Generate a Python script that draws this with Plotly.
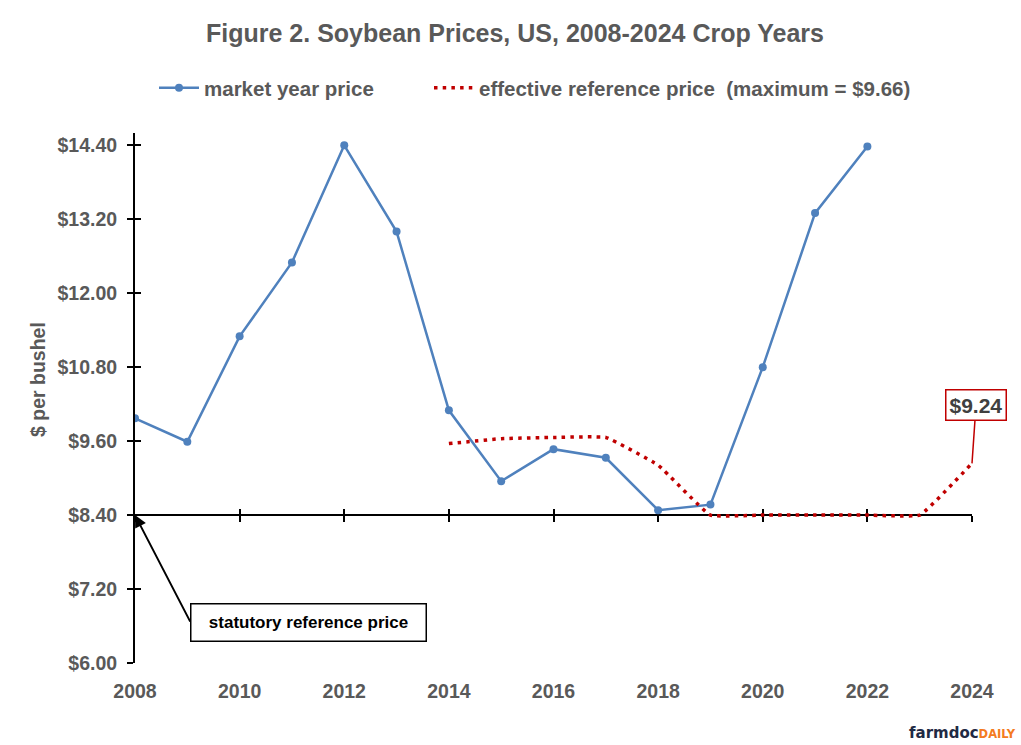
import plotly.graph_objects as go

# Market year price by crop year
market_years = [2008, 2009, 2010, 2011, 2012, 2013, 2014, 2015,
                2016, 2017, 2018, 2019, 2020, 2021, 2022]
market_price = [9.97, 9.59, 11.30, 12.50, 14.40, 13.00, 10.10, 8.95,
                9.47, 9.33, 8.48, 8.57, 10.80, 13.30, 14.38]

# Effective reference price by crop year
erp_years = [2014, 2015, 2016, 2017, 2018, 2019, 2020, 2021, 2022, 2023, 2024]
erp_price = [9.56, 9.64, 9.66, 9.66, 9.21, 8.40, 8.40, 8.40, 8.40, 8.40, 9.24]

statutory_price = 8.40
y_ticks = [6.00, 7.20, 8.40, 9.60, 10.80, 12.00, 13.20, 14.40]
x_ticks = [2008, 2010, 2012, 2014, 2016, 2018, 2020, 2022, 2024]

GRAY = "#595959"
BLUE = "#4F81BD"
RED = "#C00000"
FONT = "Liberation Sans"
Y_RANGE = [6.0, 14.6]
X_RANGE = [2008, 2024]
PLOT_L, PLOT_W, PLOT_T, PLOT_H = 135, 837, 133, 530


def px_x(px):
    return (px - PLOT_L) / PLOT_W


def px_y(py):
    return (PLOT_T + PLOT_H - py) / PLOT_H


fig = go.Figure()

fig.add_trace(go.Scatter(
    x=market_years, y=market_price, name="market year price",
    mode="lines+markers",
    line=dict(color=BLUE, width=2.5),
    marker=dict(color=BLUE, size=8),
    legend="legend",
))

fig.add_trace(go.Scatter(
    x=erp_years, y=erp_price,
    name="effective reference price  (maximum = $9.66)",
    mode="lines",
    line=dict(color=RED, width=3.5, dash="3.5px,5.2px", shape="spline", smoothing=0.3),
    legend="legend2",
))

axis_common = dict(range=X_RANGE, showgrid=False, zeroline=False, fixedrange=True)

# horizontal reference line at the statutory price (axes with crossing ticks)
stat_pos = (statutory_price - Y_RANGE[0]) / (Y_RANGE[1] - Y_RANGE[0])

legend_font = dict(family=FONT, size=20.5, color=GRAY, weight="bold")
tick_font = dict(family=FONT, size=19.5, color=GRAY, weight="bold")

fig.update_layout(
    width=1021, height=745,
    paper_bgcolor="white", plot_bgcolor="white",
    margin=dict(l=PLOT_L, r=1021 - PLOT_L - PLOT_W, t=PLOT_T, b=745 - PLOT_T - PLOT_H),
    title=dict(
        text="Figure 2. Soybean Prices, US, 2008-2024 Crop Years",
        x=515 / 1021, xanchor="center", xref="container",
        y=1 - 33 / 745, yanchor="middle", yref="container",
        font=dict(family=FONT, size=25, color=GRAY, weight="bold"),
    ),
    showlegend=True,
    legend=dict(
        orientation="h", x=px_x(154), xanchor="left",
        y=px_y(88), yanchor="middle", itemwidth=40,
        font=legend_font, bgcolor="rgba(0,0,0,0)",
    ),
    legend2=dict(
        orientation="h", x=px_x(429), xanchor="left",
        y=px_y(88), yanchor="middle", itemwidth=40,
        font=legend_font, bgcolor="rgba(0,0,0,0)",
    ),
    xaxis=dict(
        **axis_common, tickvals=x_ticks, ticktext=[str(v) for v in x_ticks],
        showline=False, ticks="", ticklabelstandoff=14, tickfont=tick_font,
    ),
    xaxis2=dict(
        **axis_common, overlaying="x", anchor="free", position=stat_pos,
        tickvals=x_ticks, showticklabels=False, showline=True,
        linecolor="black", linewidth=2, ticks="outside", ticklen=6,
        tickwidth=2, tickcolor="black", layer="below traces",
    ),
    xaxis3=dict(
        **axis_common, overlaying="x", anchor="free", position=stat_pos,
        tickvals=x_ticks, showticklabels=False, showline=False,
        ticks="inside", ticklen=6, tickwidth=2, tickcolor="black",
        layer="below traces",
    ),
    yaxis=dict(
        range=Y_RANGE, tickvals=y_ticks, ticktext=[f"${v:.2f}" for v in y_ticks],
        showgrid=False, zeroline=False, fixedrange=True,
        showline=True, linecolor="black", linewidth=2,
        ticks="outside", ticklen=6, tickwidth=2, tickcolor="black",
        ticklabelstandoff=6, tickfont=tick_font,
    ),
    yaxis2=dict(
        range=Y_RANGE, tickvals=y_ticks, overlaying="y", anchor="x", side="left",
        showticklabels=False, showgrid=False, zeroline=False, showline=False,
        ticks="inside", ticklen=6, tickwidth=2, tickcolor="black",
        fixedrange=True,
    ),
)

# invisible traces so the overlay axes are drawn
for xa, ya in (("x2", "y"), ("x3", "y2")):
    fig.add_trace(go.Scatter(x=[X_RANGE[0]], y=[Y_RANGE[0]], xaxis=xa, yaxis=ya,
                             mode="markers", marker=dict(opacity=0),
                             showlegend=False, hoverinfo="skip"))

# y-axis title
fig.add_annotation(
    text="$ per bushel", textangle=-90, showarrow=False,
    xref="paper", yref="paper", x=px_x(38), y=px_y(380),
    xanchor="center", yanchor="middle",
    font=dict(family=FONT, size=19.5, color=GRAY, weight="bold"),
)

# statutory reference price callout
fig.add_annotation(
    text="statutory reference price", showarrow=False,
    xref="paper", yref="paper", x=px_x(308), y=px_y(622),
    xanchor="center", yanchor="middle", width=232, height=34,
    bordercolor="black", borderwidth=1.5, bgcolor="white",
    font=dict(family=FONT, size=17, color="black", weight="bold"),
)
fig.add_annotation(
    text="", x=X_RANGE[0], y=statutory_price, xref="x", yref="y",
    showarrow=True, ax=56, ay=108, axref="pixel", ayref="pixel",
    arrowhead=2, arrowsize=1.2, arrowwidth=2, arrowcolor="black", standoff=0,
)

# latest effective reference price callout
last_year, last_erp = erp_years[-1], erp_price[-1]
fig.add_annotation(
    text=f"${last_erp:.2f}", x=last_year, y=last_erp, xref="x", yref="y",
    showarrow=True, ax=4, ay=-58, arrowhead=0, arrowwidth=1.5, arrowcolor=RED,
    bordercolor=RED, borderwidth=1.5, bgcolor="white", borderpad=3,
    font=dict(family=FONT, size=21, color="#404040", weight="bold"),
)

# source mark
fig.add_annotation(
    text="<b>farmdoc</b><span style='color:#F47B20;font-size:11.5px'><b>DAILY</b></span>",
    showarrow=False, xref="paper", yref="paper",
    x=px_x(1018), y=px_y(733), xanchor="right", yanchor="middle",
    font=dict(family="DejaVu Sans", size=15, color="#1F2A44"),
)

fig.write_html("out.html")
